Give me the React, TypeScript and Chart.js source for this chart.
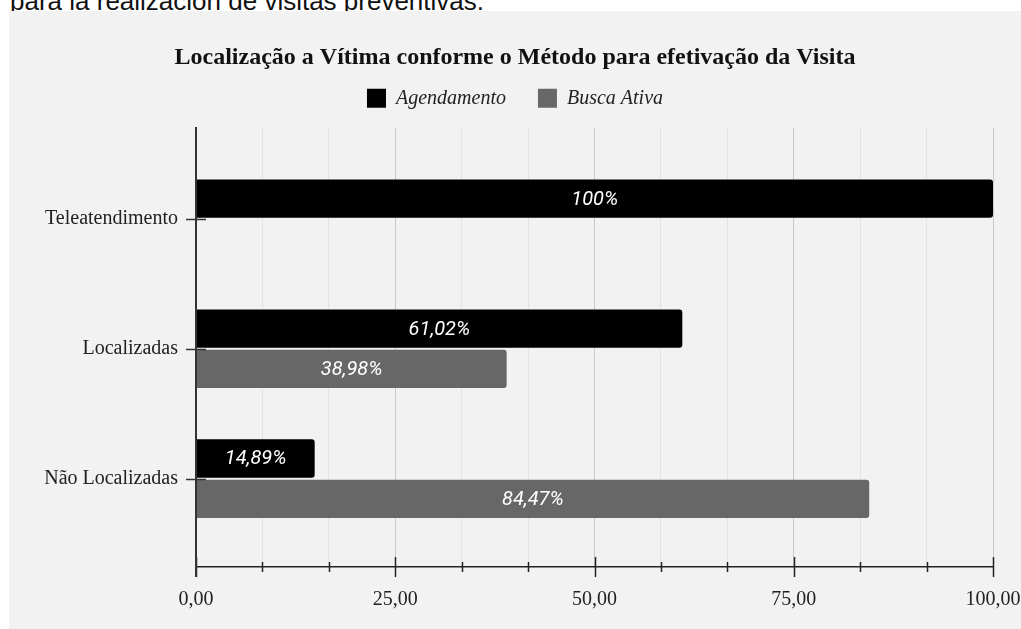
import React, { useEffect, useRef } from 'react';
import { Chart, registerables } from 'chart.js';

Chart.register(...registerables);

const categories = ['Teleatendimento', 'Localizadas', 'Não Localizadas'];
const seriesNames = ['Agendamento', 'Busca Ativa'];
const agendamento = [100, 61.02, 14.89];
const buscaAtiva = [0, 38.98, 84.47];
const xTickLabels = ['0,00', '25,00', '50,00', '75,00', '100,00'];
const titleText = 'Localização a Vítima conforme o Método para efetivação da Visita';
const topText = 'para la realización de visitas preventivas.';

const SERIF = '"Liberation Serif", "Times New Roman", serif';

const majorIndex = (v: number) => {
  const r = v / 25;
  return Math.abs(r - Math.round(r)) < 1e-6 ? Math.round(r) : -1;
};

const fmtPct = (v: number) =>
  Number.isInteger(v) ? `${v}%` : `${v.toFixed(2).replace('.', ',')}%`;

const axisMarks = {
  id: 'axisMarks',
  afterDatasetsDraw(chart: any) {
    const { ctx, chartArea, scales } = chart;
    const x = scales.x;
    const y = scales.y;
    ctx.save();
    ctx.strokeStyle = '#222';
    ctx.lineWidth = 1.5;
    x.ticks.forEach((t: any) => {
      const px = Math.round(x.getPixelForValue(t.value)) + 0.5;
      const h = majorIndex(t.value) >= 0 ? 10 : 5;
      ctx.beginPath();
      ctx.moveTo(px, chartArea.bottom - h);
      ctx.lineTo(px, chartArea.bottom + h);
      ctx.stroke();
    });
    ctx.strokeStyle = '#333';
    ctx.lineWidth = 2;
    ctx.beginPath();
    ctx.moveTo(chartArea.left, chartArea.top);
    ctx.lineTo(chartArea.left, chartArea.bottom + 10);
    ctx.stroke();
    ctx.lineWidth = 1.5;
    y.ticks.forEach((t: any) => {
      if (!Number.isInteger(t.value)) return;
      const py = Math.round(y.getPixelForValue(t.value)) + 0.5;
      ctx.beginPath();
      ctx.moveTo(chartArea.left - 10, py);
      ctx.lineTo(chartArea.left + 10, py);
      ctx.stroke();
    });
    ctx.restore();
  },
};

const barLabels = {
  id: 'barLabels',
  afterDatasetsDraw(chart: any) {
    const { ctx } = chart;
    ctx.save();
    ctx.fillStyle = '#ffffff';
    ctx.font = 'italic 20px Roboto, "Noto Sans", sans-serif';
    ctx.textAlign = 'center';
    ctx.textBaseline = 'middle';
    chart.data.datasets.forEach((ds: any, di: number) => {
      const meta = chart.getDatasetMeta(di);
      meta.data.forEach((el: any, i: number) => {
        const v = ds.data[i].x;
        if (!v) return;
        ctx.fillText(fmtPct(v), (el.x + el.base) / 2, el.y + 1);
      });
    });
    ctx.restore();
  },
};

export default function App() {
  const ref = useRef<HTMLCanvasElement | null>(null);

  useEffect(() => {
    if (!ref.current) return;
    const toPoints = (vals: number[]) => vals.map((v, i) => ({ x: v, y: i }));
    const chart = new Chart(ref.current, {
      type: 'bar',
      data: {
        datasets: [
          {
            label: seriesNames[0],
            data: toPoints(agendamento),
            backgroundColor: '#000000',
            borderRadius: 3,
            borderSkipped: 'start',
            categoryPercentage: 0.62,
            barPercentage: 0.95,
            xAxisID: 'x',
            yAxisID: 'y',
          },
          {
            label: seriesNames[1],
            data: toPoints(buscaAtiva),
            backgroundColor: '#676767',
            borderRadius: 3,
            borderSkipped: 'start',
            categoryPercentage: 0.62,
            barPercentage: 0.95,
            xAxisID: 'x',
            yAxisID: 'y',
          },
        ],
      } as any,
      options: {
        indexAxis: 'y',
        animation: false,
        responsive: false,
        maintainAspectRatio: false,
        layout: { padding: { left: 28, right: 28, top: 0, bottom: 0 } },
        plugins: {
          tooltip: { enabled: false },
          title: {
            display: true,
            text: titleText,
            color: '#111',
            font: { family: SERIF, size: 24, weight: 'bold', lineHeight: 1.2 },
            padding: { top: 32, bottom: -15.5 },
          },
          legend: {
            display: true,
            position: 'top',
            labels: {
              boxWidth: 19,
              boxHeight: 19,
              padding: 32,
              color: '#222',
              font: { family: SERIF, size: 20, style: 'italic' },
            },
          },
        },
        scales: {
          x: {
            type: 'linear',
            position: 'bottom',
            min: 0,
            max: 100,
            afterFit(s: any) {
              s.height = 62;
              s.paddingLeft = 0;
              s.paddingRight = 0;
            },
            grid: {
              color: (c: any) =>
                c.tick && majorIndex(c.tick.value) >= 0 ? '#c9c9c9' : '#e3e3e3',
              lineWidth: 1,
              drawTicks: true,
              tickLength: 10,
              tickColor: 'rgba(0,0,0,0)',
            },
            border: { display: true, color: '#222', width: 1.5 },
            ticks: {
              stepSize: 100 / 12,
              autoSkip: false,
              maxRotation: 0,
              padding: 11,
              color: '#222',
              font: { family: SERIF, size: 20 },
              callback: (v: any) => {
                const k = majorIndex(Number(v));
                return k >= 0 ? xTickLabels[k] : '';
              },
            },
          },
          xTop: {
            type: 'linear',
            axis: 'x',
            position: 'top',
            display: true,
            grid: { display: false, drawTicks: false },
            border: { display: false },
            ticks: { display: false },
            afterFit(s: any) {
              s.height = 9.5;
              s.paddingLeft = 0;
              s.paddingRight = 0;
            },
          },
          y: {
            type: 'linear',
            reverse: true,
            offset: false,
            min: -0.7,
            max: 2.68,
            afterFit(s: any) {
              s.width = 159;
              s.paddingTop = 0;
              s.paddingBottom = 0;
            },
            grid: { display: false, offset: false },
            border: { display: true, color: '#333', width: 2 },
            ticks: {
              stepSize: 1,
              includeBounds: false,
              autoSkip: false,
              padding: 10,
              color: '#222',
              font: { family: SERIF, size: 20 },
              callback: (v: any) =>
                Number.isInteger(v) && categories[v] ? categories[v] : '',
            },
          },
        } as any,
      },
      plugins: [axisMarks, barLabels],
    } as any);
    return () => chart.destroy();
  }, []);

  return (
    <div
      style={{
        position: 'absolute',
        left: 0,
        top: 0,
        width: 1021,
        height: 629,
        overflow: 'hidden',
        background: '#ffffff',
      }}
    >
      <div
        style={{
          position: 'absolute',
          left: 10,
          top: -12.5,
          whiteSpace: 'nowrap',
          fontFamily: '"Liberation Sans", Arial, sans-serif',
          fontSize: 26,
          lineHeight: '26px',
          color: '#111',
        }}
      >
        {topText}
      </div>
      <div
        style={{
          position: 'absolute',
          left: 9,
          top: 11,
          width: 1012,
          height: 618,
          background: '#f2f2f2',
        }}
      >
        <canvas ref={ref} width={1012} height={618} style={{ display: 'block' }} />
      </div>
    </div>
  );
}
